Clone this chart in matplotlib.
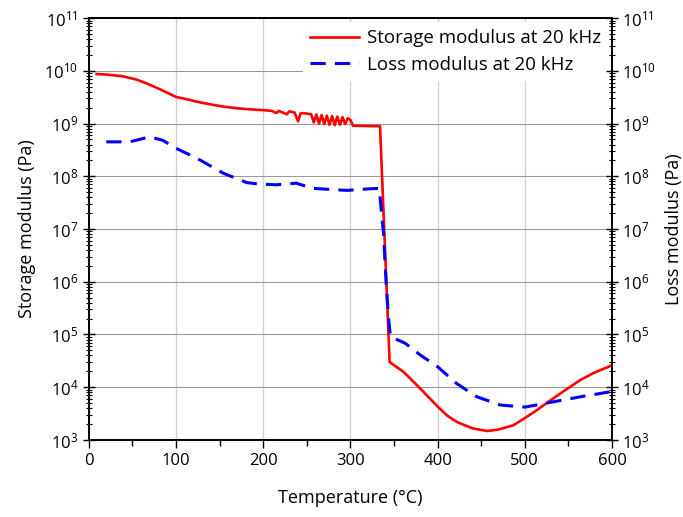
import matplotlib
matplotlib.use('Agg')
import matplotlib.pyplot as plt
import numpy as np
from matplotlib.ticker import LogLocator, MultipleLocator, NullFormatter

plt.rcParams['font.family'] = ['Open Sans', 'DejaVu Sans']
plt.rcParams['mathtext.fontset'] = 'custom'
plt.rcParams['mathtext.rm'] = 'Open Sans'
plt.rcParams['mathtext.it'] = 'Open Sans:italic'
plt.rcParams['mathtext.default'] = 'regular'

# storage modulus (Pa)
storage_T = [9, 20, 39, 55, 66, 80, 100, 112, 124, 140, 154, 170, 185, 200,
             210, 215, 218, 227, 230, 236, 240, 243, 250, 255, 258, 261, 264,
             267, 270, 273, 276, 279, 282, 285, 288, 291, 294, 297, 300, 303,
             334, 345, 361, 380, 400, 411, 422, 440, 457, 470, 487, 500, 512,
             525, 545, 564, 580, 600]
storage_E = [8.7e9, 8.5e9, 7.9e9, 6.8e9, 5.8e9, 4.6e9, 3.2e9, 2.9e9, 2.6e9,
             2.3e9, 2.1e9, 1.95e9, 1.86e9, 1.8e9, 1.74e9, 1.58e9, 1.74e9,
             1.5e9, 1.7e9, 1.62e9, 1.1e9, 1.58e9, 1.55e9, 1.5e9, 1.05e9,
             1.48e9, 1.0e9, 1.45e9, 9.8e8, 1.41e9, 9.5e8, 1.38e9, 9.3e8,
             1.35e9, 9.5e8, 1.32e9, 9.8e8, 1.26e9, 1.17e9, 9.1e8, 8.9e8,
             3.0e4, 1.95e4, 9.5e3, 4.3e3, 2.9e3, 2.2e3, 1.66e3, 1.48e3,
             1.58e3, 1.9e3, 2.6e3, 3.5e3, 5.0e3, 8.5e3, 1.38e4, 1.9e4, 2.6e4]

# loss modulus (Pa)
loss_T = [20, 47, 70, 85, 100, 124, 154, 181, 196, 215, 238, 257, 296, 322,
          333, 338, 341, 344, 346, 363, 380, 400, 422, 445, 472, 500, 525,
          564, 600]
loss_E = [4.5e8, 4.5e8, 5.6e8, 4.8e8, 3.4e8, 2.2e8, 1.15e8, 7.6e7, 7.1e7,
          6.9e7, 7.4e7, 5.9e7, 5.4e7, 5.8e7, 5.9e7, 8.3e6, 9.3e5, 1.86e5,
          9.1e4, 6.8e4, 4.1e4, 2.45e4, 1.17e4, 6.6e3, 4.6e3, 4.2e3, 5.0e3,
          6.6e3, 8.3e3]

fig = plt.figure(figsize=(6.83, 5.17), dpi=100)
ax = fig.add_axes([0.130, 0.149, 0.766, 0.816])

ax.plot(storage_T, storage_E, color='#ff0000', lw=1.9,
        label='Storage modulus at 20 kHz', zorder=3)
ax.plot(loss_T, loss_E, color='#0000ff', lw=2.2, dashes=(5, 3),
        label='Loss modulus at 20 kHz', zorder=3)

ax.set_yscale('log')
ax.set_xlim(0, 600)
ax.set_ylim(1e3, 1e11)
ax.xaxis.set_major_locator(MultipleLocator(100))
ax.xaxis.set_minor_locator(MultipleLocator(50))
ax.yaxis.set_major_locator(LogLocator(base=10, numticks=20))
ax.yaxis.set_minor_locator(LogLocator(base=10, subs=np.arange(2, 10), numticks=20))
ax.yaxis.set_minor_formatter(NullFormatter())

ax.grid(True, axis='x', which='major', color='#d0d0d0', lw=1)
ax.grid(True, axis='y', which='major', color='#9a9a9a', lw=0.8)
ax.set_axisbelow(True)

ax.tick_params(axis='x', which='major', direction='out', length=6, width=1,
               labelsize=12)
ax.tick_params(axis='x', which='minor', direction='out', length=4, width=1)
ax.tick_params(axis='y', which='major', direction='inout', length=8, width=1,
               labelsize=12)
ax.tick_params(axis='y', which='minor', direction='inout', length=4, width=0.8)

ax.set_xlabel('Temperature (°C)', fontsize=13, labelpad=14)
ax.set_ylabel('Storage modulus (Pa)', fontsize=13, labelpad=6)

ax2 = ax.twinx()
ax2.set_yscale('log')
ax2.set_ylim(1e3, 1e11)
ax2.yaxis.set_major_locator(LogLocator(base=10, numticks=20))
ax2.yaxis.set_minor_locator(LogLocator(base=10, subs=np.arange(2, 10), numticks=20))
ax2.yaxis.set_minor_formatter(NullFormatter())
ax2.tick_params(axis='y', which='major', direction='inout', length=8, width=1,
                labelsize=12)
ax2.tick_params(axis='y', which='minor', direction='inout', length=4, width=0.8)
ax2.set_ylabel('Loss modulus (Pa)', fontsize=13, labelpad=6)

for a in (ax, ax2):
    for s in a.spines.values():
        s.set_linewidth(1.2)

leg = ax.legend(loc='upper right', fontsize=13.5, frameon=True, framealpha=1,
                edgecolor='none', handlelength=2.6, borderaxespad=0.2,
                labelspacing=0.45, handletextpad=0.4)
leg.get_frame().set_linewidth(0)

fig.savefig('out.png', dpi=100)
